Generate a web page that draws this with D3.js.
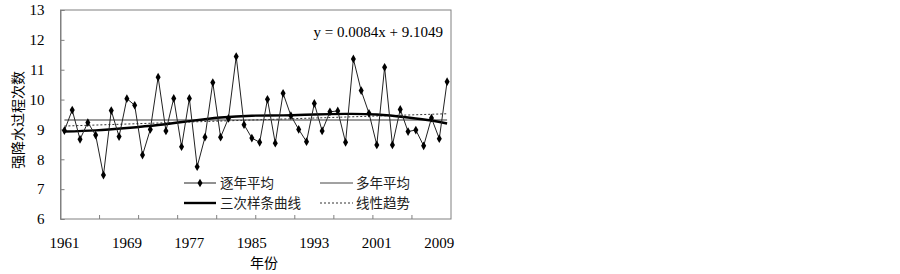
<!DOCTYPE html>
<html><head><meta charset="utf-8">
<script src="https://cdn.jsdelivr.net/npm/d3@7"></script>
<style>
body{margin:0;background:#fff;}
svg text{font-family:"Liberation Serif","Times New Roman",serif;}
.cn{font-family:"Noto Sans CJK SC","Noto Sans CJK JP",sans-serif;}
</style></head>
<body><svg id="c" width="900" height="274"></svg>
<script>
const years = d3.range(1961, 2011);
const annual = [8.96,9.65,8.67,9.23,8.81,7.47,9.63,8.76,10.03,9.81,
  8.14,9.00,10.75,8.95,10.04,8.42,10.04,7.75,8.74,10.57,
  8.74,9.37,11.44,9.16,8.71,8.57,10.01,8.54,10.21,9.46,
  9.00,8.59,9.87,8.95,9.59,9.62,8.57,11.36,10.30,9.54,
  8.48,11.08,8.48,9.67,8.93,8.98,8.45,9.38,8.69,10.60];
const splineYears = [1961,1965,1969,1973,1977,1981,1985,1989,1993,1997,2001,2005,2008,2010];
const splineVals  = [8.93,8.97,9.05,9.15,9.28,9.40,9.46,9.47,9.50,9.52,9.50,9.40,9.30,9.20];
const trendSlope = 0.0084, trendIntercept = 9.1049;
const yTicks = [6,7,8,9,10,11,12,13];
const xLabelYears = [1961,1969,1977,1985,1993,2001,2009];
const xTickIdx = [5,10,15,20,25,30,35,40,45];
const legendLabels = ["逐年平均","多年平均","三次样条曲线","线性趋势"];

const svg = d3.select("#c");
const L = 60.5, R = 451, T = 10, B = 219;
const xb = d3.scaleBand().domain(years).range([L, R]).paddingInner(0).paddingOuter(0);
const bw = xb.bandwidth();
const xc = yr => xb(yr) + bw/2;
const xl = d3.scaleLinear().domain([1961, 2010]).range([xc(1961), xc(2010)]);
const y = d3.scaleLinear().domain([6, 13]).range([B, T]);

// frame
svg.append("rect").attr("x", L).attr("y", T).attr("width", R-L).attr("height", B-T)
  .attr("fill", "none").attr("stroke", "#808080").attr("stroke-width", 1);

// y axis
const ya = svg.append("g").attr("transform", `translate(${L},0)`)
  .call(d3.axisLeft(y).tickValues(yTicks).tickSize(-4).tickPadding(16).tickFormat(d3.format("d")));
ya.select(".domain").attr("stroke", "#808080");
ya.selectAll(".tick line").attr("stroke", "#808080");
ya.selectAll("text").attr("font-size", 15).attr("fill", "#000");

// x axis labels
const xa = svg.append("g").attr("transform", `translate(0,${B})`)
  .call(d3.axisBottom(xb).tickValues(xLabelYears).tickSize(0).tickPadding(18));
xa.select(".domain").remove();
xa.selectAll("text").attr("font-size", 15).attr("fill", "#000");
// x tick marks at category boundaries
svg.append("g").selectAll("line").data(xTickIdx).join("line")
  .attr("x1", i => xb(years[i])).attr("x2", i => xb(years[i]))
  .attr("y1", B).attr("y2", B - 4).attr("stroke", "#808080");

// mean line
const meanVal = d3.mean(annual);
svg.append("line").attr("x1", xc(1961)).attr("x2", xc(2010))
  .attr("y1", y(meanVal)).attr("y2", y(meanVal))
  .attr("stroke", "#9a9a9a").attr("stroke-width", 2.2);

// trend line
svg.append("line").attr("x1", xc(1961)).attr("x2", xc(2010))
  .attr("y1", y(trendIntercept + trendSlope*1)).attr("y2", y(trendIntercept + trendSlope*50))
  .attr("stroke", "#333").attr("stroke-width", 1).attr("stroke-dasharray", "2,2");

// spline
svg.append("path").datum(splineYears.map((d,i)=>[d, splineVals[i]]))
  .attr("d", d3.line().x(d => xl(d[0])).y(d => y(d[1])).curve(d3.curveNatural))
  .attr("fill", "none").attr("stroke", "#000").attr("stroke-width", 2.4);

// annual series
svg.append("path").datum(annual)
  .attr("d", d3.line().x((d,i) => xc(years[i])).y(d => y(d)))
  .attr("fill", "none").attr("stroke", "#222").attr("stroke-width", 1);
const sym = d3.symbol().type(d3.symbolDiamond).size(22);
svg.append("g").selectAll("path").data(annual).join("path")
  .attr("d", sym).attr("transform", (d,i) => `translate(${xc(years[i])},${y(d)})`)
  .attr("fill", "#000");

// equation
svg.append("text").attr("x", 443).attr("y", 37).attr("text-anchor", "end")
  .attr("font-size", 15).text(`y = ${trendSlope}x + ${trendIntercept}`);

// legend
const lg = svg.append("g");
const r1 = 183, r2 = 203;
lg.append("line").attr("x1",184).attr("x2",216).attr("y1",r1).attr("y2",r1).attr("stroke","#222");
lg.append("path").attr("d", sym).attr("transform", `translate(200,${r1})`).attr("fill","#000");
lg.append("line").attr("x1",320).attr("x2",353).attr("y1",r1).attr("y2",r1).attr("stroke","#444");
lg.append("line").attr("x1",184).attr("x2",216).attr("y1",r2).attr("y2",r2).attr("stroke","#000").attr("stroke-width",2.4);
lg.append("line").attr("x1",320).attr("x2",353).attr("y1",r2).attr("y2",r2).attr("stroke","#333").attr("stroke-dasharray","2,2");
const lpos = [[220,r1],[356,r1],[220,r2],[356,r2]];
lg.selectAll("text").data(legendLabels).join("text").attr("class","cn")
  .attr("x",(d,i)=>lpos[i][0]).attr("y",(d,i)=>lpos[i][1]).attr("dy","0.36em")
  .attr("font-size",13.5).attr("fill","#222").text(d=>d);

// axis titles
svg.append("text").attr("class","cn").attr("x", 264).attr("y", 268).attr("text-anchor","middle")
  .attr("font-size", 14).text("年份");
svg.append("text").attr("class","cn").attr("transform","translate(23,120) rotate(-90)")
  .attr("text-anchor","middle").attr("font-size", 14).text("强降水过程次数");
</script></body></html>
